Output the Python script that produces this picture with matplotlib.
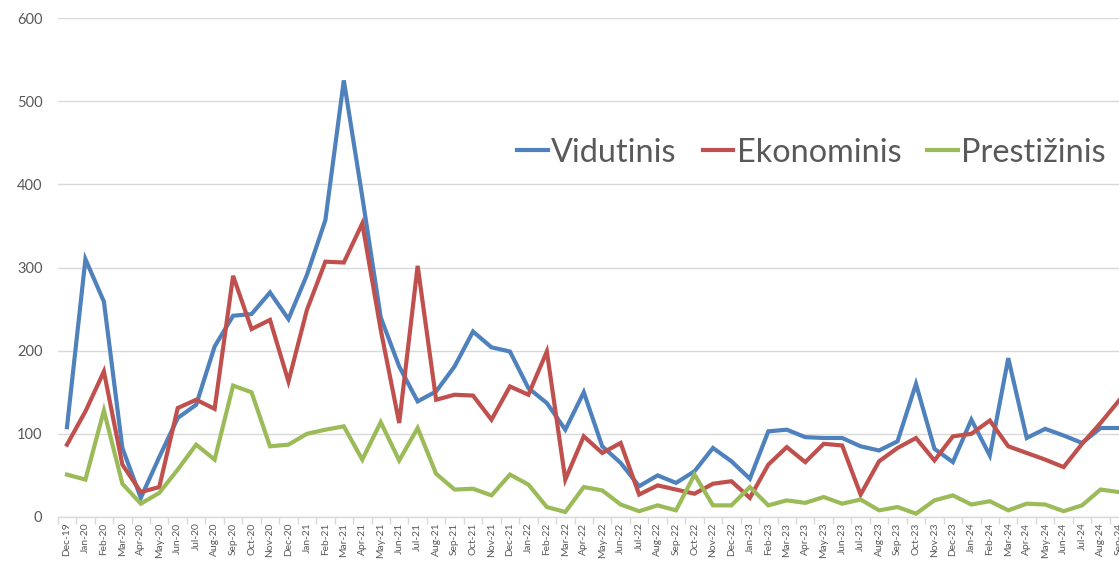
import matplotlib
matplotlib.use("Agg")
import matplotlib.pyplot as plt
from matplotlib.ticker import FixedLocator, NullFormatter
import numpy as np

plt.rcParams['font.family'] = ['Lato', 'DejaVu Sans']

months = ["Dec-19",
          "Jan-20", "Feb-20", "Mar-20", "Apr-20", "May-20", "Jun-20", "Jul-20", "Aug-20", "Sep-20", "Oct-20", "Nov-20", "Dec-20",
          "Jan-21", "Feb-21", "Mar-21", "Apr-21", "May-21", "Jun-21", "Jul-21", "Aug-21", "Sep-21", "Oct-21", "Nov-21", "Dec-21",
          "Jan-22", "Feb-22", "Mar-22", "Apr-22", "May-22", "Jun-22", "Jul-22", "Aug-22", "Sep-22", "Oct-22", "Nov-22", "Dec-22",
          "Jan-23", "Feb-23", "Mar-23", "Apr-23", "May-23", "Jun-23", "Jul-23", "Aug-23", "Sep-23", "Oct-23", "Nov-23", "Dec-23",
          "Jan-24", "Feb-24", "Mar-24", "Apr-24", "May-24", "Jun-24", "Jul-24", "Aug-24", "Sep-24"]

vidutinis = [108, 310, 259, 83, 23, 72, 119, 135, 205, 242, 244, 270, 238,
             291, 357, 525, 385, 240, 181, 139, 151, 181, 223, 204, 199,
             155, 137, 105, 150, 85, 65, 37, 50, 41, 55, 83, 67,
             46, 103, 105, 96, 95, 95, 85, 80, 91, 160, 82, 66,
             117, 74, 191, 95, 106, 98, 89, 107, 107]

ekonominis = [87, 127, 175, 63, 30, 36, 131, 141, 130, 290, 226, 237, 163,
              249, 307, 306, 353, 225, 113, 302, 141, 147, 146, 117, 157,
              147, 199, 45, 97, 77, 89, 27, 38, 33, 28, 40, 43,
              23, 63, 84, 66, 88, 86, 27, 67, 83, 95, 68, 97,
              100, 116, 85, 77, 69, 60, 88, 113, 140]

prestizinis = [51, 45, 128, 40, 16, 29, 57, 87, 69, 158, 150, 85, 87,
               100, 105, 109, 69, 114, 68, 107, 52, 33, 34, 26, 51,
               39, 12, 6, 36, 32, 15, 7, 14, 8, 51, 14, 14,
               36, 14, 20, 17, 24, 16, 21, 8, 12, 4, 20, 26,
               15, 19, 8, 16, 15, 7, 14, 33, 30]

series_names = ["Vidutinis", "Ekonominis", "Prestižinis"]
colors = ["#4F81BD", "#C0504D", "#9BBB59"]
yticks = [0, 100, 200, 300, 400, 500, 600]

W, H = 1119, 561
fig = plt.figure(figsize=(W / 100, H / 100), dpi=100)
left_px, right_px, top_px, bottom_px = 57.75, 1119, 18, 517
ax = fig.add_axes([left_px / W, (H - bottom_px) / H,
                   (right_px - left_px) / W, (bottom_px - top_px) / H])

x = np.arange(len(months))
for vals, name, c in zip([vidutinis, ekonominis, prestizinis], series_names, colors):
    ax.plot(x, vals, color=c, lw=3.0, label=name, solid_joinstyle='miter')

ax.set_ylim(0, 600)
ax.set_xlim(-0.5, 56.86)
ax.set_yticks(yticks)
ax.yaxis.grid(True, color="#D9D9D9", lw=1.0)
ax.set_axisbelow(True)
for s in ["top", "right", "left"]:
    ax.spines[s].set_visible(False)
ax.spines["bottom"].set_color("#D9D9D9")
ax.spines["bottom"].set_linewidth(1.0)

ax.tick_params(axis='y', length=0, pad=11, labelsize=10.5, labelcolor="#595959")
ax.set_xticks(x)
ax.set_xticklabels(months, rotation=90, fontsize=7.4, color="#595959")
ax.tick_params(axis='x', which='major', length=0, pad=4)
ax.xaxis.set_minor_locator(FixedLocator(np.arange(-0.5, len(months), 1.0)))
ax.xaxis.set_minor_formatter(NullFormatter())
ax.tick_params(axis='x', which='minor', length=5, color="#D9D9D9", width=1.0)

leg = ax.legend(loc='center right', bbox_to_anchor=(1.015, 0.73), ncol=3, frameon=False,
                fontsize=23.3, handlelength=0.95, handletextpad=0.1, columnspacing=0.8,
                labelcolor="#595959")
for line in leg.get_lines():
    line.set_linewidth(3.0)

fig.savefig("out.png", dpi=100)
